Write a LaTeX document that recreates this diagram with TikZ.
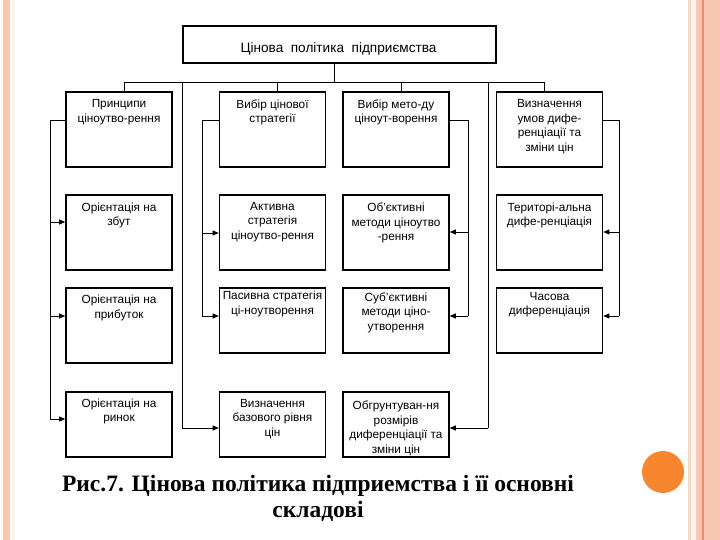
\documentclass[tikz,border=0pt]{standalone}
\usepackage{fontspec}
\setmainfont{Liberation Sans}
\newfontfamily\capfont{Liberation Serif}
\usetikzlibrary{arrows.meta}
\definecolor{salmon}{HTML}{F9C6B2}
\definecolor{peach}{HTML}{F6D9CB}
\definecolor{cream}{HTML}{FFF6EE}
\definecolor{stripeor}{HTML}{F08A68}
\definecolor{dotor}{HTML}{F7862F}
\begin{document}
\begin{tikzpicture}[x=1pt,y=-1pt,
  box/.style={draw=black,line width=1.6pt,inner sep=0pt,minimum width=106pt},
  boxtext/.style={anchor=north,inner sep=0pt,align=center,font=\fontsize{11.8}{14.5}\selectfont},
  conn/.style={draw=black,line width=0.8pt},
  arr/.style={conn,-{Triangle[length=6pt,width=5pt]}}]
\useasboundingbox (0,0) rectangle (720,540);
\fill[white] (0,0) rectangle (720,540);
% decorations
\fill[salmon] (3,0) rectangle (10,540);
\fill[cream] (12,0) rectangle (15,540);
\fill[peach] (688,0) rectangle (691,540);
\fill[cream] (691,0) rectangle (696,540);
\fill[salmon] (696,0) rectangle (720,540);
\fill[stripeor] (702,0) rectangle (704,540);
\fill[dotor] (663,472) circle (21);
% top box
\node[box,minimum width=313pt,minimum height=37pt] (top) at (339.5,44.5) {};
\node[anchor=center,inner sep=0pt,font=\fontsize{13.6}{15}\selectfont] (toptxt) at (338.5,48.5) {Цінова\ \ політика\ \ підприємства};
% row 1
\node[box,minimum height=75pt] (b11) at (119,129.5) {};
\node[box,minimum height=75pt] (b12) at (272.5,129.5) {};
\node[box,minimum height=75pt] (b13) at (396,129.5) {};
\node[box,minimum height=75pt] (b14) at (549.5,129.5) {};
% row 2
\node[box,minimum height=75pt] (b21) at (119,232.5) {};
\node[box,minimum height=75pt] (b22) at (272.5,232.5) {};
\node[box,minimum height=75pt] (b23) at (396,232.5) {};
\node[box,minimum height=75pt] (b24) at (549.5,232.5) {};
% row 3
\node[box,minimum height=75pt] (b31) at (119,325.5) {};
\node[box,minimum height=65pt] (b32) at (272.5,320.5) {};
\node[box,minimum height=65pt] (b33) at (396,320.5) {};
\node[box,minimum height=65pt] (b34) at (549.5,320.5) {};
% row 4
\node[box,minimum height=65pt] (b41) at (119,424.5) {};
\node[box,minimum height=65pt] (b42) at (272.5,424.5) {};
\node[box,minimum height=65pt] (b43) at (396,424.5) {};
% texts
\node[boxtext] (t11) at ([yshift=-8]b11.north) {Принципи\\ціноутво-рення};
\node[boxtext] (t12) at ([yshift=-8]b12.north) {Вибір цінової\\стратегії};
\node[boxtext] (t13) at ([yshift=-8]b13.north) {Вибір мето-ду\\ціноут-ворення};
\node[boxtext] (t14) at ([yshift=-8]b14.north) {Визначення\\умов дифе-\\ренціації та\\зміни цін};
\node[boxtext] (t21) at ([yshift=-8.5]b21.north) {Орієнтація на\\збут};
\node[boxtext] (t22) at ([yshift=-7.5]b22.north) {Активна\\стратегія\\ціноутво-рення};
\node[boxtext] (t23) at ([yshift=-8.5]b23.north) {Об'єктивні\\методи ціноутво\\-рення};
\node[boxtext] (t24) at ([yshift=-8.5]b24.north) {Територі-альна\\дифе-ренціація};
\node[boxtext] (t31) at ([yshift=-8]b31.north) {Орієнтація на\\прибуток};
\node[boxtext] (t32) at ([yshift=-4]b32.north) {Пасивна стратегія\\ці-ноутворення};
\node[boxtext] (t33) at ([yshift=-5]b33.north) {Суб'єктивні\\методи ціно-\\утворення};
\node[boxtext] (t34) at ([yshift=-4.5]b34.north) {Часова\\диференціація};
\node[boxtext] (t41) at ([yshift=-7.5]b41.north) {Орієнтація на\\ринок};
\node[boxtext] (t42) at ([yshift=-7.5]b42.north) {Визначення\\базового рівня\\цін};
\node[boxtext] (t43) at ([yshift=-9.5]b43.north) {Обгрунтуван-ня\\розмірів\\диференціації та\\зміни цін};
% bus
\coordinate (s0) at (334,82);
\coordinate (s1) at (124,82);
\coordinate (sA) at (182,82);
\coordinate (s2) at (277,82);
\coordinate (s3) at (401,82);
\coordinate (sB) at (488,82);
\coordinate (s4) at (544,82);
\draw[conn] (top.south -| s0) -- (s0);
\draw[conn] (s1) -- (s4);
\draw[conn] (s1) -- (b11.north -| s1);
\draw[conn] (s2) -- (b12.north -| s2);
\draw[conn] (s3) -- (b13.north -| s3);
\draw[conn] (s4) -- (b14.north -| s4);
% col 1
\coordinate (L1) at (50,120);
\coordinate (L1e) at (50,419);
\draw[conn] (b11.west |- L1) -- (L1) -- (L1e);
\draw[arr] (50,222) -- (b21.west |- 0,222);
\draw[arr] (50,316) -- (b31.west |- 0,316);
\draw[arr] (L1e) -- (b41.west |- L1e);
% col 2
\coordinate (L2) at (202,120);
\coordinate (L2e) at (202,316);
\draw[conn] (b12.west |- L2) -- (L2) -- (L2e);
\draw[arr] (202,233) -- (b22.west |- 0,233);
\draw[arr] (L2e) -- (b32.west |- L2e);
\coordinate (A1) at (182,428);
\draw[conn] (sA) -- (A1);
\draw[arr] (A1) -- (b42.west |- A1);
% col 3
\coordinate (L3) at (468,120);
\coordinate (L3e) at (468,316);
\draw[conn] (b13.east |- L3) -- (L3) -- (L3e);
\draw[arr] (468,232) -- (b23.east |- 0,232);
\draw[arr] (L3e) -- (b33.east |- L3e);
\coordinate (B1) at (488,428);
\draw[conn] (sB) -- (B1);
\draw[arr] (B1) -- (b43.east |- B1);
% col 4
\coordinate (L4) at (619,120);
\coordinate (L4e) at (619,316);
\draw[conn] (b14.east |- L4) -- (L4) -- (L4e);
\draw[arr] (619,232) -- (b24.east |- 0,232);
\draw[arr] (L4e) -- (b34.east |- L4e);
% caption
\node[align=center,inner sep=0pt,font=\capfont\bfseries\fontsize{23.5}{26}\selectfont] (cap) at (318,498) {Рис.7. Цінова політика підприемства і її основні\\складові};
\end{tikzpicture}
\end{document}
